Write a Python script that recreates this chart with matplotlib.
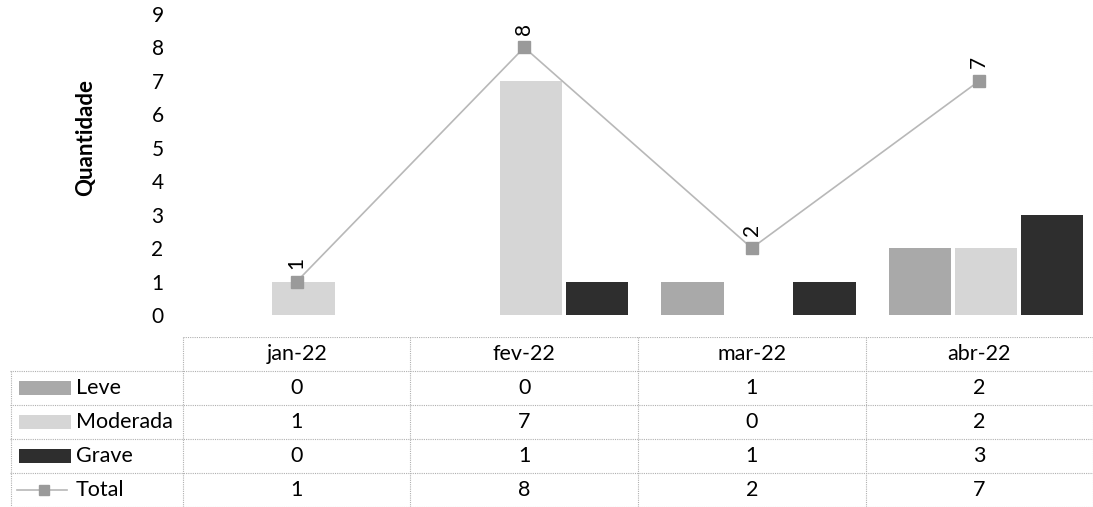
import matplotlib
matplotlib.use('Agg')
import matplotlib.pyplot as plt
from matplotlib.patches import Rectangle
from matplotlib.lines import Line2D

plt.rcParams['font.family'] = ['Lato', 'DejaVu Sans']

categories = ['jan-22', 'fev-22', 'mar-22', 'abr-22']
leve = [0, 0, 1, 2]
moderada = [1, 7, 0, 2]
grave = [0, 1, 1, 3]
total = [1, 8, 2, 7]

series = [('Leve', leve, '#a9a9a9'),
          ('Moderada', moderada, '#d6d6d6'),
          ('Grave', grave, '#2e2e2e')]
line_color = '#b8b8b8'
marker_color = '#9a9a9a'
grid_color = '#b0b0b0'

W, H = 1093, 507
fig = plt.figure(figsize=(W / 100, H / 100), dpi=100)

# main chart area
ax = fig.add_axes([183 / W, (H - 315) / H, (1093 - 183) / W, 301 / H])
x = range(len(categories))
width = 0.275
offsets = [-0.29, 0.0, 0.29]
for (name, vals, color), off in zip(series, offsets):
    ax.bar([i + off + 0.03 for i in x], vals, width=width, color=color, linewidth=0)
ax.plot(x, total, '-', color=line_color, linewidth=1.2, marker='s', markersize=8,
        markerfacecolor=marker_color, markeredgecolor=marker_color, zorder=5)
for i, v in zip(x, total):
    ax.annotate(str(v), (i, v), xytext=(0, 9), textcoords='offset points',
                rotation=90, ha='center', va='bottom', fontsize=15)
ax.set_xlim(-0.5, 3.5)
ax.set_ylim(0, 9)
ax.set_yticks(range(10))
ax.tick_params(axis='y', length=0, labelsize=15, pad=14)
ax.set_xticks([])
for s in ax.spines.values():
    s.set_visible(False)
ax.set_ylabel('Quantidade', fontsize=16, fontweight='bold')
ax.yaxis.set_label_coords(-0.095, 0.59)

# data table underneath
tx0 = 10
px_per_unit = (1093 - 183) / 4
xmin = -0.5 - (183 - tx0) / px_per_unit
tab = fig.add_axes([tx0 / W, 0, (1093 - tx0) / W, (H - 337) / H])
tab.set_xlim(xmin, 3.5)
tab.set_ylim(5, 0)
tab.axis('off')

lkw = dict(color=grid_color, linewidth=0.8, linestyle=(0, (1, 1)))
# horizontal lines
tab.plot([-0.5, 3.5], [0, 0], **lkw)
for r in range(1, 6):
    tab.plot([xmin, 3.5], [r, r], **lkw)
# vertical lines
for c in range(5):
    tab.plot([c - 0.5, c - 0.5], [0, 5], **lkw)
tab.plot([xmin + 0.005, xmin + 0.005], [1, 5], **lkw)

fs = 15.5
for i, cat in enumerate(categories):
    tab.text(i, 0.5, cat, ha='center', va='center', fontsize=fs)
rows = series + [('Total', total, None)]
key_x0 = xmin + 0.03
for r, (name, vals, color) in enumerate(rows, start=1):
    if color is not None:
        tab.add_patch(Rectangle((key_x0 + 0.01, r + 0.3), 0.23, 0.4,
                                color=color, linewidth=0))
    else:
        tab.add_line(Line2D([key_x0, key_x0 + 0.22], [r + 0.5, r + 0.5],
                            color=line_color, linewidth=1.2))
        tab.plot([key_x0 + 0.12], [r + 0.5], 's', color=marker_color, markersize=7)
    tab.text(key_x0 + 0.26, r + 0.5, name, ha='left', va='center', fontsize=fs)
    for i, v in enumerate(vals):
        tab.text(i, r + 0.5, str(v), ha='center', va='center', fontsize=fs)

fig.savefig('out.png', dpi=100)
